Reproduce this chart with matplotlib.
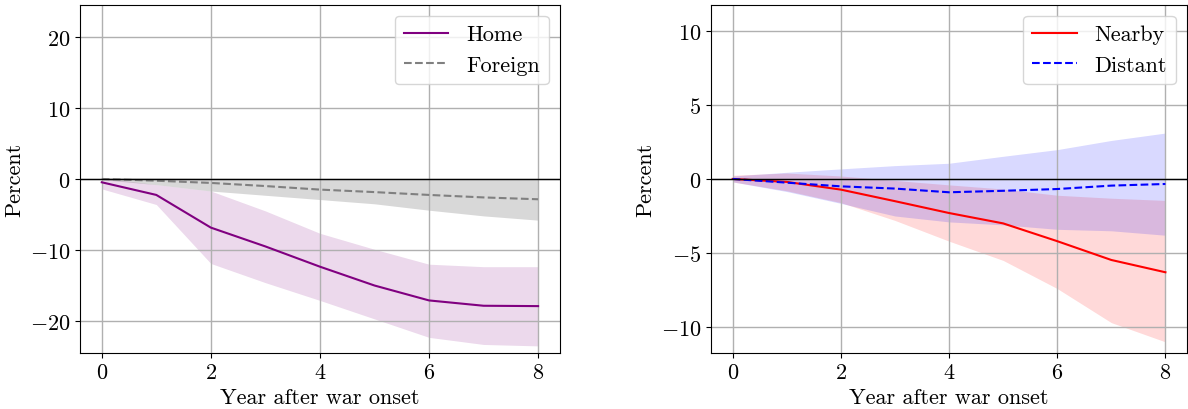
import numpy as np
import matplotlib
matplotlib.use("Agg")
import matplotlib.pyplot as plt

plt.rcParams['font.family'] = 'serif'
plt.rcParams['font.serif'] = ['cmr10']
plt.rcParams['mathtext.fontset'] = 'cm'
plt.rcParams['axes.formatter.use_mathtext'] = True
plt.rcParams['font.size'] = 16

years = [0, 1, 2, 3, 4, 5, 6, 7, 8]

# left panel: home vs foreign
home = [-0.47, -2.25, -6.85, -9.5, -12.35, -15.0, -17.1, -17.85, -17.9]
home_lo = [-1.4, -3.6, -11.9, -14.6, -17.1, -19.7, -22.3, -23.3, -23.5]
home_hi = [0.2, -0.8, -1.7, -4.5, -7.65, -9.9, -12.0, -12.35, -12.35]

foreign = [0.0, -0.25, -0.56, -1.0, -1.5, -1.85, -2.25, -2.6, -2.86]
foreign_lo = [-0.1, -0.8, -1.7, -2.3, -2.9, -3.5, -4.4, -5.2, -5.8]
foreign_hi = [0.2, 0.15, 0.1, 0.05, 0.0, 0.0, 0.0, 0.0, 0.0]

# right panel: nearby vs distant
nearby = [0.0, -0.2, -0.72, -1.5, -2.3, -3.0, -4.2, -5.47, -6.3]
nearby_lo = [-0.2, -0.8, -1.6, -2.8, -4.2, -5.5, -7.4, -9.7, -11.0]
nearby_hi = [0.25, 0.4, 0.2, -0.1, -0.4, -0.68, -1.1, -1.3, -1.45]

distant = [0.0, -0.25, -0.5, -0.65, -0.9, -0.8, -0.68, -0.45, -0.34]
distant_lo = [-0.2, -0.85, -1.65, -2.5, -2.9, -3.1, -3.4, -3.5, -3.8]
distant_hi = [0.2, 0.45, 0.68, 0.9, 1.06, 1.53, 1.98, 2.6, 3.1]

fig = plt.figure(figsize=(11.88, 4.10), dpi=100)
ax1 = fig.add_axes([0.0673, 0.1366, 0.404, 0.849])
ax2 = fig.add_axes([0.5985, 0.1366, 0.4007, 0.849])

ax1.fill_between(years, home_lo, home_hi, color='purple', alpha=0.15, lw=0)
ax1.fill_between(years, foreign_lo, foreign_hi, color='gray', alpha=0.3, lw=0)
ax1.plot(years, home, color='purple', lw=1.5, label='Home')
ax1.plot(years, foreign, color='gray', lw=1.5, ls='--', label='Foreign')
ax1.set_ylim(-24.5, 24.5)
ax1.set_yticks([-20, -10, 0, 10, 20])

ax2.fill_between(years, nearby_lo, nearby_hi, color='red', alpha=0.15, lw=0)
ax2.fill_between(years, distant_lo, distant_hi, color='blue', alpha=0.15, lw=0)
ax2.plot(years, nearby, color='red', lw=1.5, label='Nearby')
ax2.plot(years, distant, color='blue', lw=1.5, ls='--', label='Distant')
ax2.set_ylim(-11.75, 11.75)
ax2.set_yticks([-10, -5, 0, 5, 10])

for ax in (ax1, ax2):
    ax.axhline(0, color='black', lw=1)
    ax.grid(True, color='#b0b0b0', lw=1)
    ax.set_xticks([0, 2, 4, 6, 8])
    ax.set_xlabel('Year after war onset')
    ax.set_ylabel('Percent')
    ax.legend(loc='upper right', fontsize=16)

fig.savefig('out.png', dpi=100)
